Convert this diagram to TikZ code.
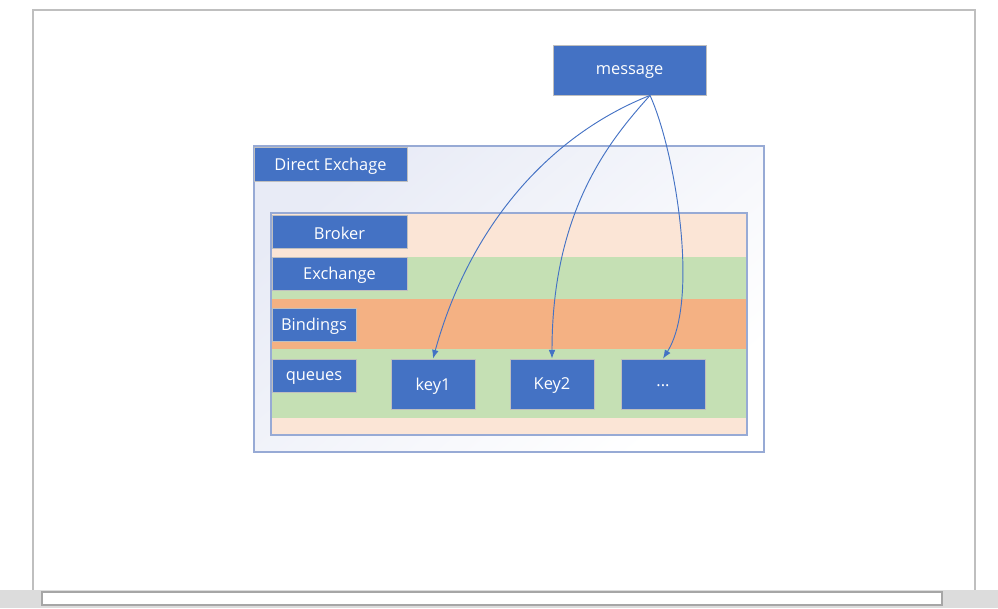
\documentclass[tikz,border=0pt]{standalone}
\usepackage{fontspec}
\setmainfont{Open Sans}
\usetikzlibrary{fit,arrows.meta,calc}
\definecolor{boxblue}{HTML}{4472C4}
\definecolor{peach}{HTML}{FBE5D6}
\definecolor{lgreen}{HTML}{C5E0B4}
\definecolor{orng}{HTML}{F4B183}
\definecolor{frameblue}{HTML}{97AAD5}
\definecolor{shadeblue}{HTML}{E8EBF6}
\definecolor{pagegray}{HTML}{BFBFBF}
\definecolor{bargray}{HTML}{DCDCDC}
\tikzset{
  bluebox/.style={draw=pagegray, line width=0.6pt, fill=boxblue, text=white, inner sep=0pt},
  boxtext/.style={text=white, inner sep=0pt, yshift=-1.5pt, font=\fontsize{12.3}{14}\selectfont},
  container/.style={draw=frameblue, line width=1.1pt, inner sep=0pt},
  flow/.style={draw=boxblue, line width=0.7pt, -{Latex[length=6.5pt,width=5pt]}}
}
\begin{document}
\begin{tikzpicture}[x=0.75pt,y=-0.75pt]
\useasboundingbox (0,0) rectangle (998,608);
% page frame
\draw[pagegray, line width=0.8pt] (33,590) -- (33,10) -- (975,10) -- (975,590);
\fill[bargray] (0,590) rectangle (998,608);
\draw[fill=white, draw=gray!70, line width=0.8pt] (42,592) rectangle (942,605);
% Direct exchange container
\node[container, fit={(254,146) (764,452)}, top color=shadeblue, bottom color=white, shading angle=40] (dx) {};
\node[bluebox, fit={(254,147) (407,181)}] (dxl) {};
\node[boxtext] at (dxl.center) {Direct Exchage};
% bands
\fill[peach] (271,213) rectangle (747,257);
\fill[lgreen] (271,257) rectangle (747,299);
\fill[orng] (271,299) rectangle (747,349);
\fill[lgreen] (271,349) rectangle (747,418);
\fill[peach] (271,418) rectangle (747,435);
\node[container, fit={(271,213) (747,435)}] (broker) {};
% labels
\node[bluebox, fit={(272,215) (407,248)}] (lb) {};
\node[boxtext] at (lb.center) {Broker};
\node[bluebox, fit={(272,257) (407,290)}] (le) {};
\node[boxtext] at (le.center) {Exchange};
\node[bluebox, fit={(272,308) (356,341)}] (lbi) {};
\node[boxtext] at (lbi.center) {Bindings};
\node[bluebox, fit={(272,359) (356,392)}] (lq) {};
\node[boxtext] at (lq.center) {queues};
% keys
\node[bluebox, fit={(391,359) (475,409)}] (k1) {};
\node[boxtext] at (k1.center) {key1};
\node[bluebox, fit={(510,359) (594,409)}] (k2) {};
\node[boxtext] at (k2.center) {Key2};
\node[bluebox, fit={(621,359) (705,409)}] (k3) {};
\node[boxtext] at (k3.center) {...};
% message
\node[bluebox, fit={(553,45) (706,95)}] (msg) {};
\node[boxtext] at (msg.center) {message};
\coordinate (src) at ($(msg.south)+(20.5,0)$);
% arrows
\draw[flow] (src) .. controls (550,135) and (470,225) .. (k1.north);
\draw[flow] (src) .. controls (610,140) and (552,210) .. (k2.north);
\draw[flow] (src) .. controls (675,150) and (700,300) .. (k3.north);
\end{tikzpicture}
\end{document}
